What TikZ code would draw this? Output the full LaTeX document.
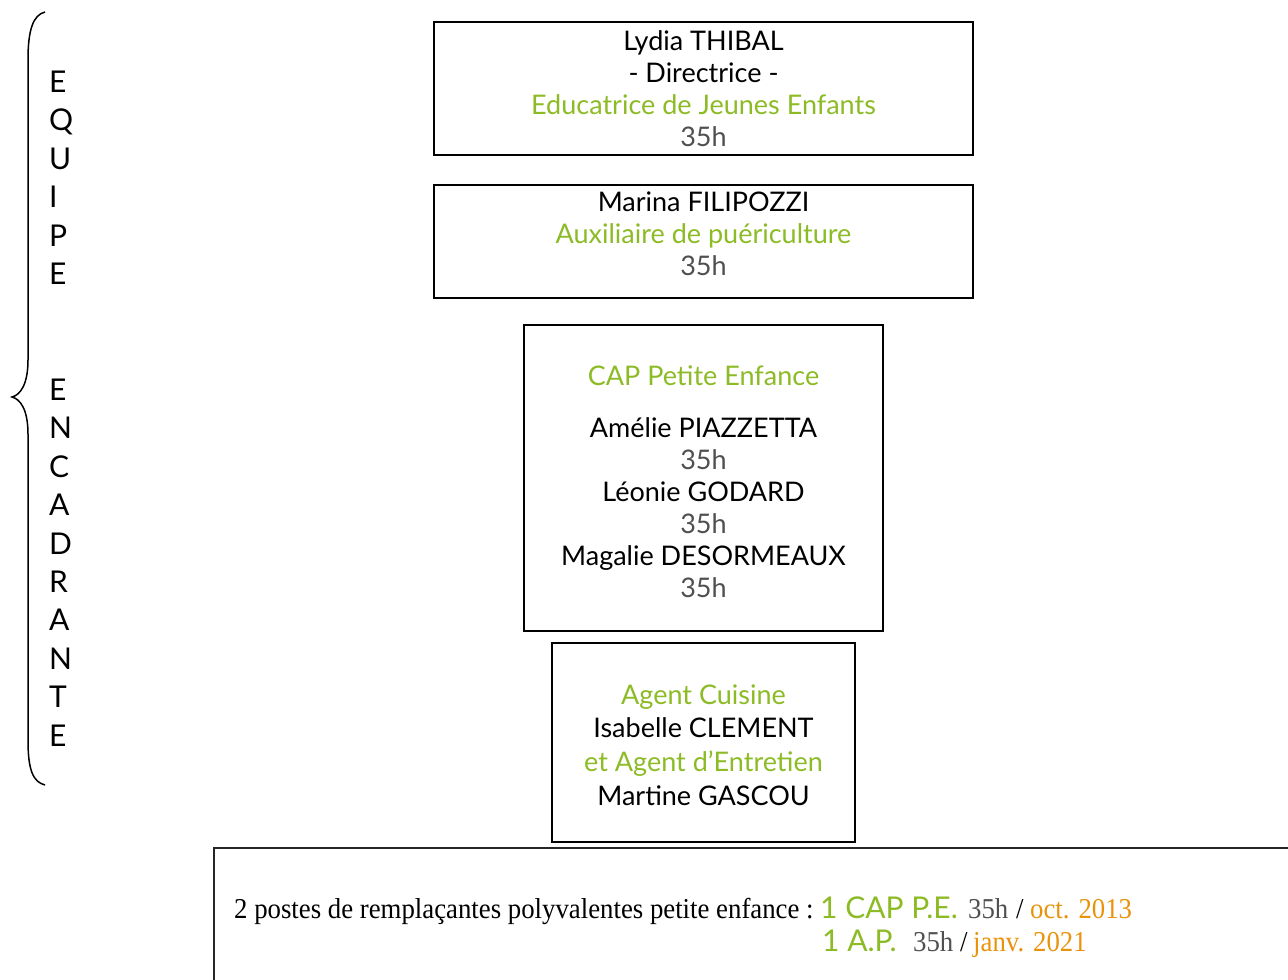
\documentclass[tikz,border=0pt]{standalone}
\usepackage{fontspec}
\setmainfont{Lato}
\newfontfamily\tms[FakeStretch=0.93]{Liberation Serif}
\definecolor{grn}{HTML}{8CBB26}
\definecolor{gry}{HTML}{505050}
\definecolor{org}{HTML}{E8930C}
\begin{document}
\begin{tikzpicture}[x=1pt,y=-1pt,
  box/.style={draw=black, line width=2pt, inner sep=0pt},
  boxtext/.style={align=center, inner sep=0pt, font=\fontsize{27}{32}\selectfont},
  sideletter/.style={inner sep=0pt, anchor=base west, font=\fontsize{30}{30}\selectfont},
  tx/.style={inner sep=0pt, anchor=base west},
  sr/.style={tx, font=\tms\fontsize{28.8}{30}\selectfont},
  ss/.style={tx, font=\fontsize{30}{30}\selectfont, text=grn}]
\useasboundingbox (0,0) rectangle (1288,980);

% brace
\draw[line width=1.5pt] (45,12) .. controls (33,15) and (28,30) .. (28,60) -- (28,360)
  .. controls (28,385) and (20,395) .. (12,397)
  .. controls (20,399) and (28,409) .. (28,434) -- (28,740)
  .. controls (28,770) and (33,782) .. (45,785);

\foreach \l [count=\i] in {E,Q,U,I,P,E}
  \node[sideletter] (eq\i) at (49, {81+38.4*(\i-1)+11.5}) {\l};
\foreach \l [count=\i] in {E,N,C,A,D,R,A,N,T,E}
  \node[sideletter] (en\i) at (49, {389+38.4*(\i-1)+11.5}) {\l};

% boxes
\node[box, minimum width=539, minimum height=133] (b1) at (703.5,88.5) {};
\node[box, minimum width=539, minimum height=113] (b2) at (703.5,241.5) {};
\node[box, minimum width=359, minimum height=306] (b3) at (703.5,478) {};
\node[box, minimum width=303, minimum height=199] (b4) at (703.5,742.5) {};

\node[boxtext] (b1t) at (703.5,88.5)
  {Lydia THIBAL\\- Directrice -\\\textcolor{grn}{Educatrice de Jeunes Enfants}\\\textcolor{gry}{35h}};
\node[boxtext] (b2t) at (703.5,234)
  {Marina FILIPOZZI\\\textcolor{grn}{Auxiliaire de puériculture}\\\textcolor{gry}{35h}};
\node[boxtext] (b3t) at (703.5,482)
  {\textcolor{grn}{CAP Petite Enfance}\\[20pt]Amélie PIAZZETTA\\\textcolor{gry}{35h}\\Léonie GODARD\\\textcolor{gry}{35h}\\Magalie DESORMEAUX\\\textcolor{gry}{35h}};
\node[boxtext, font=\fontsize{27}{33.7}\selectfont] (b4t) at (703.5,745)
  {\textcolor{grn}{Agent Cuisine}\\Isabelle CLEMENT\\\textcolor{grn}{et Agent d’Entretien}\\Martine GASCOU};

% bottom box
\draw[line width=1.5pt, draw=black!85] (1292,848) -- (214,848) -- (214,984);
\node[sr] (t1) at (234,918) {2 postes de remplaçantes polyvalentes petite enfance :};
\node[ss] (g1) at (820,918) {1 CAP P.E.};
\node[sr, text=gry] (h1) at (968,918) {35h};
\node[sr] (s1) at (1016,918) {/};
\node[sr, text=org] (o1) at (1030,918) {oct. 2013};
\node[ss] (g2) at (822,951) {1 A.P.};
\node[sr, text=gry] (h2) at (913,951) {35h};
\node[sr] (s2) at (960,951) {/};
\node[sr, text=org] (o2) at (973,951) {janv. 2021};
\end{tikzpicture}
\end{document}
